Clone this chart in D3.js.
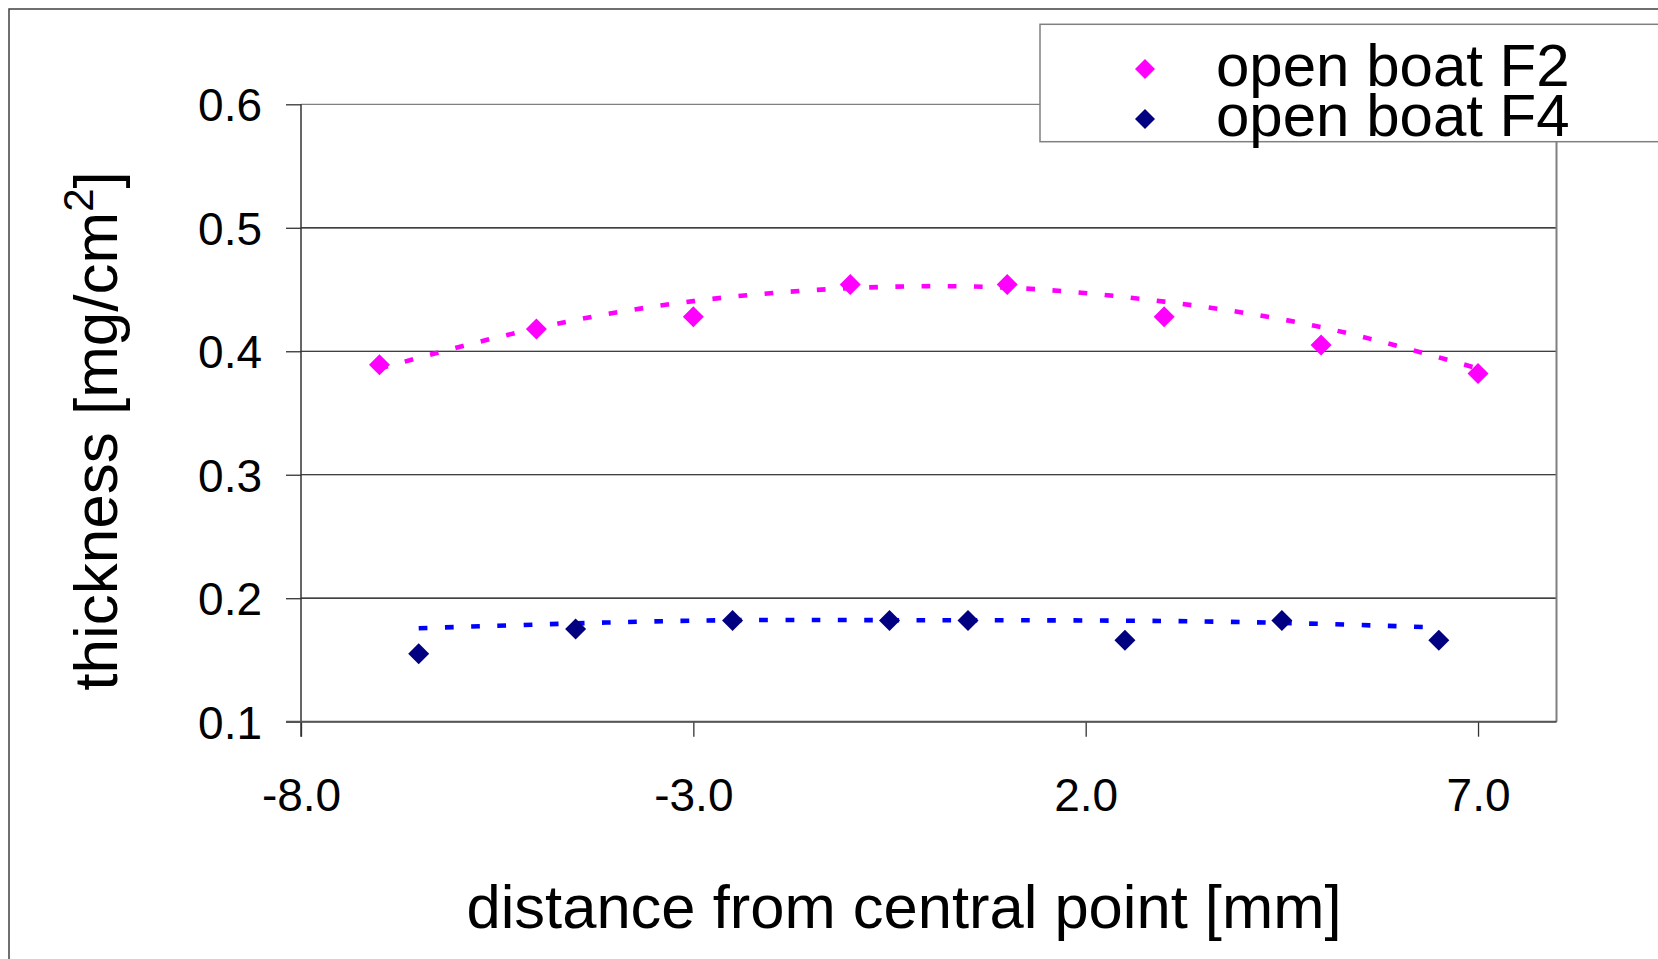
<!DOCTYPE html>
<html>
<head>
<meta charset="utf-8">
<script src="https://cdn.jsdelivr.net/npm/d3@7"></script>
<style>
  body { margin: 0; background: #fff; }
  svg { display: block; font-family: "Liberation Sans", Arial, sans-serif; }
</style>
</head>
<body>
<script>
// measured points
let f2X = [-7, -5, -3, -1, 1, 3, 5, 7]
let f2Y = [0.389, 0.418, 0.428, 0.454, 0.454, 0.428, 0.405, 0.382]
let f4X = [-6.5, -4.5, -2.5, -0.5, 0.5, 2.5, 4.5, 6.5]
let f4Y = [0.155, 0.175, 0.182, 0.182, 0.182, 0.166, 0.182, 0.166]

// trend lines
let trendF2Y = [0.386, 0.4187, 0.4406, 0.4511, 0.4515, 0.4402, 0.4195, 0.386]
let trendF4Y = [0.1757, 0.1796, 0.1822, 0.1822, 0.1822, 0.1818, 0.18, 0.1763]

let xTicks = [-8, -3, 2, 7]
let yTicks = [0.1, 0.2, 0.3, 0.4, 0.5, 0.6]
let seriesNames = ['open boat F2', 'open boat F4']

let width = 1658
let height = 959
let plotLeft = 301
let plotRight = 1556.5
let plotTop = 104.3
let plotBottom = 721.7

let svg = d3.select('body')
            .append('svg')
            .attr('width', width)
            .attr('height', height)

// outer chart frame (runs off the picture right and bottom)
svg.append('rect')
    .attr('x', 9).attr('y', 9)
    .attr('width', 1700).attr('height', 1000)
    .attr('fill', '#fff')
    .attr('stroke', '#404040')
    .attr('stroke-width', 1.5)

let xScale = d3.scaleLinear().domain([-8, 8]).range([plotLeft, plotRight])
let yScale = d3.scaleLinear().domain([0.1, 0.6]).range([plotBottom, plotTop])

// gridlines
svg.append('g')
    .selectAll('line')
    .data(yTicks)
    .enter()
    .append('line')
    .attr('x1', plotLeft).attr('x2', plotRight)
    .attr('y1', (d) => yScale(d)).attr('y2', (d) => yScale(d))
    .attr('stroke', (d) => d === 0.6 ? '#808080' : '#000')
    .attr('stroke-width', 1.2)

// plot area right border
svg.append('line')
    .attr('x1', plotRight).attr('x2', plotRight)
    .attr('y1', plotTop).attr('y2', plotBottom)
    .attr('stroke', '#808080')
    .attr('stroke-width', 2)

// axes
let yAxis = d3.axisLeft(yScale)
    .tickValues(yTicks)
    .tickSize(15)
    .tickSizeOuter(0)
    .tickPadding(24)
    .tickFormat(d3.format('.1f'))

let xAxis = d3.axisBottom(xScale)
    .tickValues(xTicks)
    .tickSize(15)
    .tickSizeOuter(0)
    .tickPadding(42)
    .tickFormat(d3.format('.1f'))

let gy = svg.append('g')
    .attr('transform', 'translate(' + plotLeft + ',0)')
    .call(yAxis)

let gx = svg.append('g')
    .attr('transform', 'translate(0,' + plotBottom + ')')
    .call(xAxis)

for (let g of [gx, gy]) {
    g.select('.domain').remove()
    g.selectAll('line').attr('stroke', '#333').attr('stroke-width', 1.3)
    g.selectAll('text')
        .attr('fill', '#000')
        .style('font-size', '46px')
        .style('font-family', '"Liberation Sans", Arial, sans-serif')
}
gx.selectAll('text').text((d) => d3.format('.1f')(d).replace('\u2212', '-'))
gy.selectAll('text').attr('dy', '0.36em')

// axis lines
svg.append('line')
    .attr('x1', plotLeft).attr('x2', plotLeft)
    .attr('y1', plotTop).attr('y2', plotBottom + 15)
    .attr('stroke', '#333').attr('stroke-width', 1.5)
svg.append('line')
    .attr('x1', plotLeft - 15).attr('x2', plotRight)
    .attr('y1', plotBottom).attr('y2', plotBottom)
    .attr('stroke', '#555').attr('stroke-width', 2)

// trend lines
let line = d3.line()
    .x((d) => xScale(d[0]))
    .y((d) => yScale(d[1]))
    .curve(d3.curveNatural)

svg.append('path')
    .datum(d3.zip(f2X, trendF2Y))
    .attr('d', line)
    .attr('fill', 'none')
    .attr('stroke', '#ff00ff')
    .attr('stroke-width', 4.6)
    .attr('stroke-dasharray', '8.7 17.5')

svg.append('path')
    .datum(d3.zip(f4X, trendF4Y))
    .attr('d', line)
    .attr('fill', 'none')
    .attr('stroke', '#0000ff')
    .attr('stroke-width', 4.6)
    .attr('stroke-dasharray', '8.7 17.5')

// diamond markers
let diamond = (r) => 'M0,' + (-r) + 'L' + r + ',0L0,' + r + 'L' + (-r) + ',0Z'

svg.append('g')
    .selectAll('path')
    .data(d3.zip(f2X, f2Y))
    .enter()
    .append('path')
    .attr('d', diamond(10.5))
    .attr('transform', (d) => 'translate(' + xScale(d[0]) + ',' + yScale(d[1]) + ')')
    .attr('fill', '#ff00ff')

svg.append('g')
    .selectAll('path')
    .data(d3.zip(f4X, f4Y))
    .enter()
    .append('path')
    .attr('d', diamond(10.5))
    .attr('transform', (d) => 'translate(' + xScale(d[0]) + ',' + yScale(d[1]) + ')')
    .attr('fill', '#000080')

// axis titles
svg.append('text')
    .attr('x', 904)
    .attr('y', 928)
    .attr('text-anchor', 'middle')
    .style('font-size', '61.5px')
    .text('distance from central point [mm]')

let yTitle = svg.append('text')
    .attr('transform', 'translate(117,431) rotate(-90)')
    .attr('text-anchor', 'middle')
    .style('font-size', '62px')
yTitle.append('tspan').text('thickness [mg/cm')
yTitle.append('tspan').attr('dy', -24).style('font-size', '42px').text('2')
yTitle.append('tspan').attr('dy', 24).text(']')

// legend
let legend = svg.append('g')
legend.append('rect')
    .attr('x', 1040).attr('y', 24.3)
    .attr('width', 700).attr('height', 117.4)
    .attr('fill', '#fff')
    .attr('stroke', '#808080')
    .attr('stroke-width', 1.5)

let legendColors = ['#ff00ff', '#000080']
let legendY = [86, 136]
seriesNames.forEach((name, i) => {
    legend.append('path')
        .attr('d', diamond(10))
        .attr('transform', 'translate(1145,' + (legendY[i] - 17) + ')')
        .attr('fill', legendColors[i])
    legend.append('text')
        .attr('x', 1216)
        .attr('y', legendY[i])
        .style('font-size', '60px')
        .text(name)
})
</script>
</body>
</html>
